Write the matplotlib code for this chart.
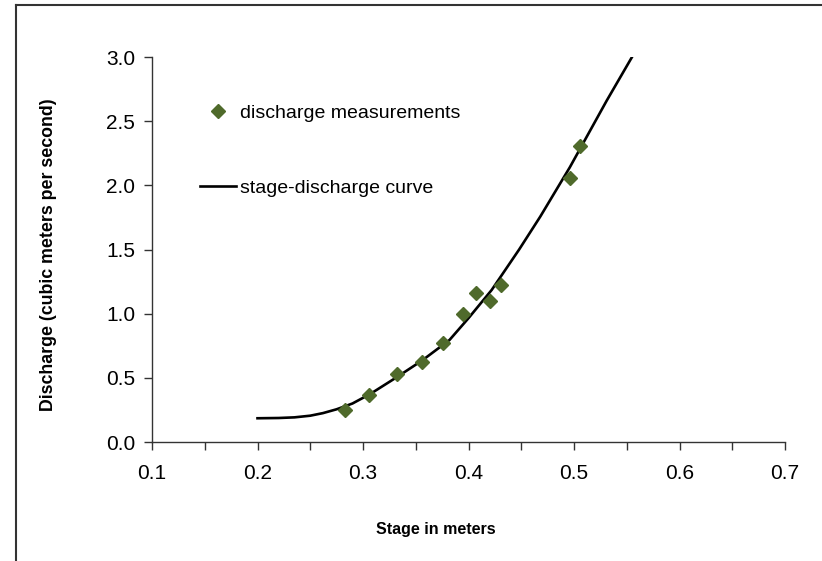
import numpy as np
import matplotlib
matplotlib.use("Agg")
import matplotlib.pyplot as plt
from matplotlib.lines import Line2D
from matplotlib.ticker import MultipleLocator

plt.rcParams['font.family'] = ['Liberation Sans', 'DejaVu Sans']

# measured points (stage m, discharge m3/s)
stage_meas = [0.283, 0.306, 0.332, 0.356, 0.376, 0.395, 0.407, 0.420, 0.431, 0.496, 0.506]
q_meas = [0.25, 0.366, 0.53, 0.62, 0.774, 1.00, 1.16, 1.10, 1.22, 2.06, 2.31]

# rating curve
stage_curve = [0.20, 0.22, 0.235, 0.25, 0.262, 0.275, 0.29, 0.307, 0.332, 0.356, 0.382,
               0.40, 0.422, 0.448, 0.468, 0.496, 0.531, 0.555]
q_curve = [0.185, 0.187, 0.192, 0.205, 0.225, 0.255, 0.30, 0.375, 0.505, 0.635, 0.795,
           0.965, 1.185, 1.50, 1.756, 2.14, 2.66, 3.0]

xticks = [0.1, 0.2, 0.3, 0.4, 0.5, 0.6, 0.7]
yticks = [0.0, 0.5, 1.0, 1.5, 2.0, 2.5, 3.0]

fig = plt.figure(figsize=(8.22, 5.61), dpi=100)
ax = fig.add_axes([152 / 822, 1 - 442 / 561, (785 - 152) / 822, (442 - 57) / 561])

ax.plot(stage_meas, q_meas, linestyle='none', marker='D', markersize=7.5,
        color='#4f6a2b', label='discharge measurements', zorder=3)
ax.plot(stage_curve, q_curve, color='black', linewidth=1.9,
        label='stage-discharge curve', zorder=2)

ax.set_xlim(0.1, 0.7)
ax.set_ylim(0, 3.0)
ax.set_xticks(xticks)
ax.set_xticklabels([f"{v:.1f}" for v in xticks])
ax.xaxis.set_minor_locator(MultipleLocator(0.05))
ax.set_yticks(yticks)
ax.set_yticklabels([f"{v:.1f}" for v in yticks])

for s in ['top', 'right']:
    ax.spines[s].set_visible(False)
for s in ['left', 'bottom']:
    ax.spines[s].set_color('#333333')
    ax.spines[s].set_linewidth(1.0)

ax.tick_params(axis='both', which='both', direction='out', length=6, width=1,
               color='#333333', labelsize=15, pad=6)
ax.tick_params(axis='x', which='both', pad=10)

ax.set_xlabel('Stage in meters', fontsize=11.5, fontweight='bold')
ax.xaxis.set_label_coords(0.449, -0.208)
ax.set_ylabel('Discharge (cubic meters per second)', fontsize=12.8, fontweight='bold')
ax.yaxis.set_label_coords(-0.150, 0.486)

ax.legend(loc='upper left', bbox_to_anchor=(200 / 822, 1 - 104 / 561),
          bbox_transform=fig.transFigure, frameon=False, fontsize=14,
          handlelength=1.85, handletextpad=0.2, labelspacing=2.95,
          borderpad=0, borderaxespad=0)

# outer frame (left and top edges visible in the picture)
fig.add_artist(Line2D([16 / 822, 16 / 822], [0, 1 - 5 / 561], transform=fig.transFigure,
                      color='#333333', linewidth=1.5))
fig.add_artist(Line2D([16 / 822, 1], [1 - 5 / 561, 1 - 5 / 561], transform=fig.transFigure,
                      color='#333333', linewidth=1.5))

fig.savefig('out.png', dpi=100)
